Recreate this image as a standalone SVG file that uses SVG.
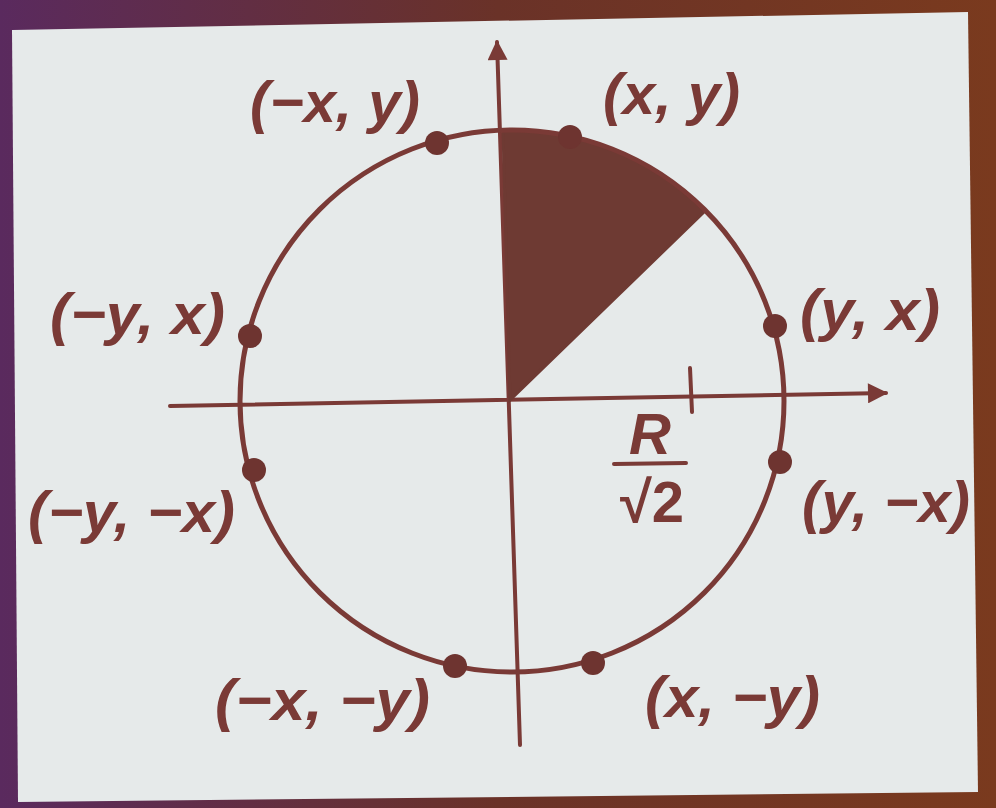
<svg xmlns="http://www.w3.org/2000/svg" width="996" height="808" viewBox="0 0 996 808">
<defs>
<linearGradient id="frame" x1="0" y1="0" x2="1" y2="0">
<stop offset="0" stop-color="#5a2a5e"/>
<stop offset="0.5" stop-color="#6a3228"/>
<stop offset="1" stop-color="#7a3a1e"/>
</linearGradient>
<marker id="arr" viewBox="0 0 10 10" refX="9" refY="5" markerWidth="7" markerHeight="5" markerUnits="strokeWidth" orient="auto">
<path d="M0,0 L10,5 L0,10 z" fill="#7a3a36"/>
</marker>
<style>
.ln{stroke:#7a3a36;stroke-width:4;fill:none;stroke-linecap:round}
.dot{fill:#6e3430}
.lb{font-family:"Liberation Sans",Arial,sans-serif;font-weight:bold;font-style:italic;font-size:58px;fill:#7a3a36}
</style>
</defs>
<rect width="996" height="808" fill="url(#frame)"/>
<polygon points="12,30 968,12 978,792 18,802" fill="#e6eaea"/>
<g id="connectors">
<line class="ln" x1="170" y1="406" x2="886" y2="393" marker-end="url(#arr)"/>
<line class="ln" x1="520" y1="745" x2="497" y2="42" marker-end="url(#arr)"/>
<line class="ln" x1="690" y1="368" x2="692" y2="412"/>
</g>
<g id="wedge">
<path d="M510,400 L503,130 A272,271 0 0 1 705,211 Z" fill="#6e3a33" stroke="#6e3a33" stroke-width="3"/>
</g>
<g id="circle">
<ellipse cx="512" cy="401" rx="272" ry="271" class="ln" style="stroke-width:5"/>
</g>
<g id="p-mx-y"><circle class="dot" cx="437" cy="143" r="12"/><text class="lb" x="250" y="122" textLength="170" lengthAdjust="spacingAndGlyphs">(−x, y)</text></g>
<g id="p-x-y"><circle class="dot" cx="570" cy="137" r="12"/><text class="lb" x="603" y="114" textLength="137" lengthAdjust="spacingAndGlyphs">(x, y)</text></g>
<g id="p-y-x"><circle class="dot" cx="775" cy="326" r="12"/><text class="lb" x="800" y="330" textLength="140" lengthAdjust="spacingAndGlyphs">(y, x)</text></g>
<g id="p-my-x"><circle class="dot" cx="250" cy="336" r="12"/><text class="lb" x="50" y="334" textLength="175" lengthAdjust="spacingAndGlyphs">(−y, x)</text></g>
<g id="p-my-mx"><circle class="dot" cx="254" cy="470" r="12"/><text class="lb" x="28" y="532" textLength="207" lengthAdjust="spacingAndGlyphs">(−y, −x)</text></g>
<g id="p-y-mx"><circle class="dot" cx="780" cy="462" r="12"/><text class="lb" x="802" y="522" textLength="168" lengthAdjust="spacingAndGlyphs">(y, −x)</text></g>
<g id="p-mx-my"><circle class="dot" cx="455" cy="666" r="12"/><text class="lb" x="215" y="720" textLength="215" lengthAdjust="spacingAndGlyphs">(−x, −y)</text></g>
<g id="p-x-my"><circle class="dot" cx="593" cy="663" r="12"/><text class="lb" x="645" y="717" textLength="175" lengthAdjust="spacingAndGlyphs">(x, −y)</text></g>
<g id="label-r">
<text class="lb" x="650" y="454" text-anchor="middle" style="font-size:58px">R</text>
<line class="ln" x1="614" y1="464" x2="686" y2="463"/>
<text class="lb" x="652" y="522" text-anchor="middle" style="font-style:normal;font-size:58px">√2</text>
</g>
</svg>
